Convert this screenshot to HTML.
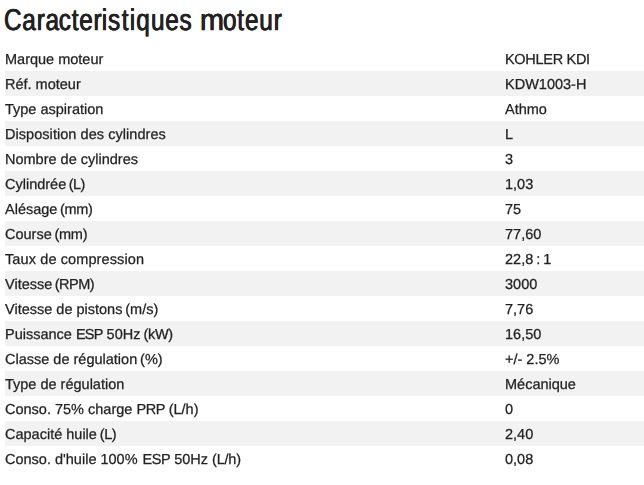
<!DOCTYPE html>
<html lang="fr">
<head>
<meta charset="utf-8">
<title>Caracteristiques moteur</title>
<style>
html,body{margin:0;padding:0;background:#fff;}
body{width:644px;height:485px;overflow:hidden;position:relative;font-family:"Liberation Sans",sans-serif;color:#222;}
h1{text-rendering:geometricPrecision;position:absolute;left:0;top:1px;margin:0;font-size:30px;line-height:40px;font-weight:normal;white-space:nowrap;color:#222;-webkit-text-stroke:0.4px #222;text-shadow:0.3px 0 0 #222,-0.3px 0 0 #222;}
h1 i{font-style:normal;}
h1 span{position:absolute;top:0;display:block;transform-origin:0 0;}
h1 .w1{left:4.4px;transform:scaleX(0.811);letter-spacing:0.98px;}
h1 .w2{left:199.8px;transform:scaleX(0.96);}
h1 .w3{left:222.8px;transform:scaleX(0.811);letter-spacing:1.03px;}
table{text-rendering:geometricPrecision;will-change:transform;-webkit-text-stroke:0.25px #222;position:absolute;left:5px;top:46px;width:639px;border-collapse:collapse;font-size:14.5px;}
td{height:22.5px;padding:2.5px 0 0 0;line-height:22.5px;white-space:nowrap;}
td.a{width:500px;}
tr:nth-child(even) td{background:#f2f2f2;}
</style>
</head>
<body>
<h1><span class="w1">Car<i style="letter-spacing:-0.47px">a</i>cte<i style="letter-spacing:0.04px">r</i>i<i style="letter-spacing:1.92px">s</i><i style="letter-spacing:1.72px">t</i><i style="letter-spacing:1.35px">iq</i>ues </span><span class="w2">m</span><span class="w3">oteur</span></h1>
<table>
<tr><td class="a">Marque moteur</td><td style="letter-spacing:-0.3px">KOHLER KDI</td></tr>
<tr><td class="a">Réf. moteur</td><td>KDW1003-H</td></tr>
<tr><td class="a">Type aspiration</td><td>Athmo</td></tr>
<tr><td class="a"><span style="letter-spacing:0.05px">Disposition des cylindres</span></td><td>L</td></tr>
<tr><td class="a">Nombre de cylindres</td><td>3</td></tr>
<tr><td class="a">Cylindrée <span style="margin-left:-1.5px;letter-spacing:-0.63px">(L)</span></td><td>1,03</td></tr>
<tr><td class="a">Alésage <span style="margin-left:-1.5px;letter-spacing:-0.3px">(mm)</span></td><td>75</td></tr>
<tr><td class="a">Course <span style="margin-left:-1.4px;letter-spacing:-0.25px">(mm)</span></td><td>77,60</td></tr>
<tr><td class="a"><span style="letter-spacing:0.11px">Taux de compression</span></td><td style="word-spacing:-1px">22,8 : 1</td></tr>
<tr><td class="a">Vitesse <span style="margin-left:-1.6px;letter-spacing:-0.5px">(RPM)</span></td><td>3000</td></tr>
<tr><td class="a">Vitesse de pistons <span style="margin-left:-1.2px;letter-spacing:0px">(m/s)</span></td><td>7,76</td></tr>
<tr><td class="a">Puissance <span style="margin-left:0px;letter-spacing:-0.8px">ESP</span> 50Hz <span style="margin-left:-1px;letter-spacing:-0.3px">(kW)</span></td><td>16,50</td></tr>
<tr><td class="a">Classe de régulation <span style="margin-left:-1.2px;letter-spacing:0px">(%)</span></td><td>+/- 2.5%</td></tr>
<tr><td class="a">Type de régulation</td><td>Mécanique</td></tr>
<tr><td class="a">Conso. 75% charge <span style="margin-left:0px;letter-spacing:-0.4px">PRP</span> <span style="margin-left:-0.4px;letter-spacing:0px">(L/h)</span></td><td>0</td></tr>
<tr><td class="a">Capacité huile <span style="margin-left:-1.2px;letter-spacing:-0.4px">(L)</span></td><td>2,40</td></tr>
<tr><td class="a">Conso. d'huile 100% <span style="margin-left:1px;letter-spacing:-0.5px">ESP</span> 50Hz <span style="margin-left:0px;letter-spacing:-0.2px">(L/h)</span></td><td>0,08</td></tr>
</table>
</body>
</html>
